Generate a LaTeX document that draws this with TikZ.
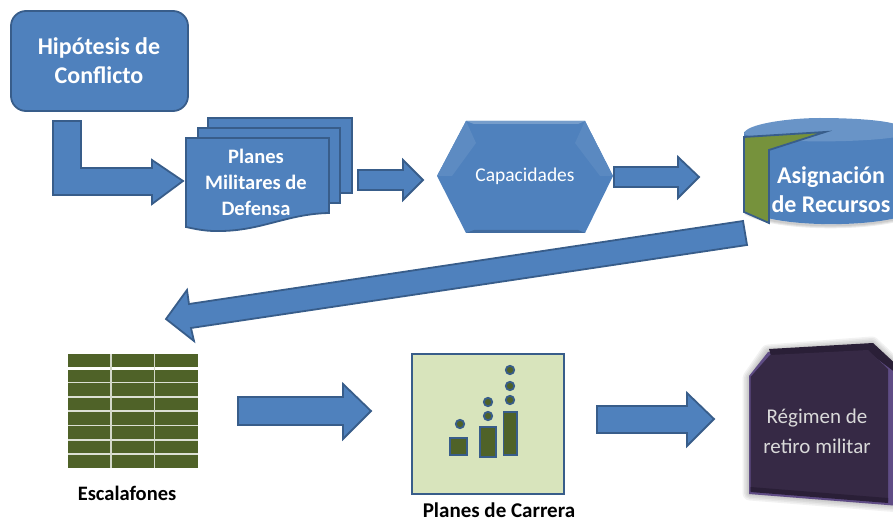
\documentclass[tikz,border=0pt]{standalone}
\usepackage{fontspec}
\setmainfont{Carlito}
\definecolor{bl}{HTML}{4F81BD}
\definecolor{bld}{HTML}{385D8A}
\definecolor{olv}{HTML}{4F6228}
\definecolor{grn}{HTML}{76923C}
\definecolor{pale}{HTML}{D8E4BC}
\definecolor{prp}{HTML}{362945}
\definecolor{prpd}{HTML}{2A1F37}
\definecolor{prpl}{HTML}{5F4C85}
\tikzset{
 shp/.style={fill=bl,draw=bld,line width=1.8pt,line join=miter},
 lbl/.style={text=white,align=center,font=\bfseries,inner sep=0pt},
 blk/.style={text=black,font=\bfseries,inner sep=0pt},
}
\begin{document}
\begin{tikzpicture}[x=1pt,y=-1pt]
\useasboundingbox (0,0) rectangle (893,521);
\clip (0,0) rectangle (893,521);
% top box
\draw[shp,rounded corners=15pt] (11,11) rectangle (188,111);
\node[lbl,font=\fontsize{24}{29}\selectfont\bfseries] (hip) at (99,61) {Hipótesis de\\Conflicto};
% L arrow
\draw[shp] (53,121)--(81,121)--(81,168)--(152,168)--(152,160)--(183,181)--(152,204)--(152,195)--(53,195)--cycle;
% doc stack
\draw[shp] (208,118) rectangle (352,193);
\draw[shp] (198,128) rectangle (340,203);
\draw[shp] (186,138)--(329,138)--(329,213) .. controls (285,214) and (260,232) .. (215,231) .. controls (205,231) and (195,229) .. (186,227)--cycle;
\node[lbl,font=\fontsize{20.5}{26}\selectfont\bfseries] (plm) at (256,182) {Planes\\Militares de\\Defensa};
% arrow 2
\draw[shp] (358,170)--(403,170)--(403,160)--(423,180)--(403,200)--(403,190)--(358,190)--cycle;
% hexagon
\fill[bl] (437,176)--(466,121)--(585,121)--(613,176)--(585,233)--(466,233)--cycle;
\fill[bl!92!white] (437,176)--(466,121)--(476,143)--(452,176)--cycle;
\fill[white!22!bl] (466,121)--(585,121)--(578,124)--(474,124)--cycle;
\fill[bl!94!white] (585,121)--(613,176)--(600,176)--(575,143)--cycle;
\fill[bld!60!bl] (466,233)--(585,233)--(578,230)--(474,230)--cycle;
\node[text=white,inner sep=0pt,font=\fontsize{19.5}{22}\selectfont] (cap) at (525,176) {Capacidades};
% arrow 3
\draw[shp] (614,167)--(678,167)--(678,157)--(699,177)--(678,198)--(678,187)--(614,187)--cycle;
% cylinder
\foreach \w in {2,4,6}{
 \draw[black,opacity=.07,line width=\w pt] (746,212) .. controls (775,228) and (860,229) .. (900,218);}
\fill[bl] (744,132)--(744,209) .. controls (770,227) and (860,228) .. (900,217) -- (900,132) -- cycle;
\fill[white!15!bl] (744,134) .. controls (744,124) and (790,118) .. (820,118) .. controls (850,118) and (890,120) .. (900,126) -- (900,136) .. controls (880,142) and (770,145) .. (744,134) -- cycle;
\draw[fill=grn,draw=bld,line width=1.8pt,line join=miter] (744,137)--(825,132)--(769,150)--(769,223)--(744,212)--cycle;
\node[lbl,font=\fontsize{24}{29}\selectfont\bfseries] (asi) at (831,190) {Asignación\\de Recursos};
% long arrow
\draw[shp] (743,221)--(747,245)--(191,328)--(194,341)--(166,319)--(187,290)--(189,304)--cycle;
% table
\fill[olv] (68,354) rectangle (198,367);
\fill[olv] (68,370) rectangle (198,468);
\foreach \yy in {382.5,397,411,425.5,440,454}{\draw[white!80!olv,line width=1.2pt] (68,\yy)--(198,\yy);}
\foreach \xx in {111,154.5}{\draw[white!75!olv,line width=1.2pt] (\xx,354)--(\xx,468);}
\node[blk,font=\fontsize{20.5}{24}\selectfont\bfseries] (esc) at (127,493) {Escalafones};
% arrow 4
\draw[shp] (238,397)--(343,397)--(343,384)--(371,411)--(343,439)--(343,425)--(238,425)--cycle;
% green panel
\draw[fill=pale,draw=bld,line width=1.8pt] (412,354) rectangle (564,494);
\foreach \a/\b/\c/\d in {450/438/467/455,480/427/496/457,503.5/412/517/455}{
 \draw[fill=olv,draw=bld,line width=1.8pt] (\a,\b) rectangle (\c,\d);}
\foreach \a/\b in {460/424,488/416,488/402,510/400,510/386,510/370}{
 \draw[fill=olv,draw=bld,line width=1.8pt] (\a,\b) circle[radius=4.2];}
\node[blk,font=\fontsize{21}{24}\selectfont\bfseries] (car) at (499,510.5) {Planes de Carrera};
% arrow 5
\draw[shp] (597,406)--(687,406)--(687,393)--(714,419)--(687,446)--(687,433)--(597,433)--cycle;
% purple
\foreach \w in {3,6,9,12,15}{
 \draw[black,opacity=.05,line width=\w pt,line join=round] (750,378)--(768,352)--(872,344)--(900,370)--(900,505)--(750,493)--cycle;}
\fill[prpl] (749,376)--(768,352)--(872,344)--(900,372)--(900,506)--(749,494)--cycle;
\fill[prpd] (769,349)--(873,343)--(900,368)--(900,376)--(868,352)--(771,356)--cycle;
\fill[prp] (750.5,377)--(770,355)--(868,350)--(888,369)--(888,501)--(750.5,491)--cycle;
\fill[prpd] (750.5,487)--(888,498)--(888,503)--(750.5,492)--cycle;
\node[text=white!85!black,align=center,inner sep=0pt,font=\fontsize{21}{30}\selectfont] (reg) at (817,431) {Régimen de\\retiro militar};
\end{tikzpicture}
\end{document}
